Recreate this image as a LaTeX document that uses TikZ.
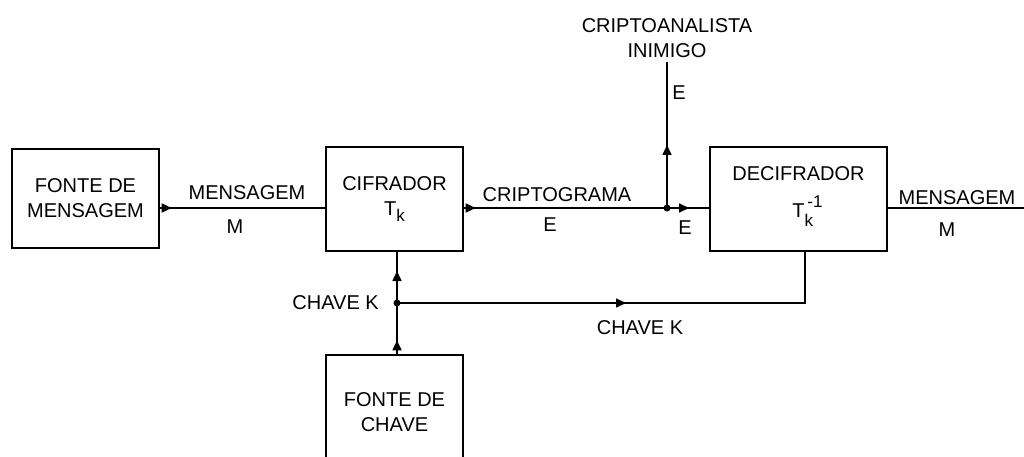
\documentclass[tikz,border=0pt]{standalone}
\usepackage{fontspec}
\setmainfont{Liberation Sans}
\usetikzlibrary{arrows.meta, decorations.markings}

\newcommand{\Tk}{T\raisebox{-6pt}{\fontsize{17}{17}\selectfont k}}
\newcommand{\Tkinv}{T{\fontsize{17}{15}\selectfont\begin{tabular}[c]{@{}l@{}}\raisebox{2pt}{\,-1}\\k\end{tabular}}}

\begin{document}
\begin{tikzpicture}[
        x=1pt, y=-1pt,
        every node/.style={font=\fontsize{20}{25}\selectfont},
        box/.style={draw, line width=1.4pt, align=center, inner sep=0pt},
        flow/.style={line width=1.6pt, postaction={decorate},
        decoration={markings, mark=at position #1 with {\arrow{Triangle[length=10pt, width=9pt]}}}},
        wire/.style={line width=1.6pt},
        lbl/.style={inner sep=0pt}
      ]
      \useasboundingbox (0,0) rectangle (1024,457);

      \node[box, minimum width=147pt, minimum height=99pt] (fontemsg) at (85.5, 198.5) {FONTE DE\\MENSAGEM};
      \node[box, minimum width=137pt, minimum height=104pt] (cifrador) at (394.5, 199) {CIFRADOR\\[0pt]\Tk};
      \node[box, minimum width=177pt, minimum height=104pt] (decifrador) at (798.5, 199) {DECIFRADOR\\[12pt]\hspace*{18pt}\Tkinv};
      \node[box, minimum width=137pt, minimum height=115pt, text depth=0pt] (fontechave) at (394.5, 412.5) {FONTE DE\\CHAVE};

      \coordinate (tap)  at (667, 208);
      \coordinate (spy)  at (667, 62);
      \coordinate (keyj) at (397, 303);
      \coordinate (keyc) at (805, 303);
      \coordinate (out)  at (1024, 208);

      \draw[flow=12pt] (fontemsg.east |- tap) -- (cifrador.west |- tap);
      \draw[flow=12pt] (cifrador.east |- tap) -- (tap);
      \draw[flow=22pt] (tap) -- (decifrador.west |- tap);
      \draw[flow=63pt] (tap) -- (spy);
      \draw[wire] (decifrador.east |- tap) -- (out);
      \draw[flow=14pt] (fontechave.north -| keyj) -- (keyj);
      \draw[flow=32pt] (keyj) -- (cifrador.south -| keyj);
      \draw[flow=229pt] (keyj) -- (keyc) -- (decifrador.south -| keyc);
      \fill (tap) circle (3.5pt);
      \fill (keyj) circle (3.5pt);

      \node[lbl] (lmsg)  at (247, 193) {MENSAGEM};
      \node[lbl] (lm)    at (235, 227) {M};
      \node[lbl] (lcrip) at (557, 195) {CRIPTOGRAMA};
      \node[lbl] (le1)   at (550, 225) {E};
      \node[lbl] (le2)   at (685, 228) {E};
      \node[lbl] (le3)   at (679, 93)  {E};
      \node[lbl, align=center, anchor=south] (spyname) at (667, 58) {CRIPTOANALISTA\\INIMIGO};
      \node[lbl] (lmsg2) at (957, 198) {MENSAGEM};
      \node[lbl] (lm2)   at (947, 230) {M};
      \node[lbl, anchor=east] (lkey1) at (379, 303) {CHAVE K};
      \node[lbl] (lkey2) at (640, 328) {CHAVE K};
    \end{tikzpicture}
\end{document}
